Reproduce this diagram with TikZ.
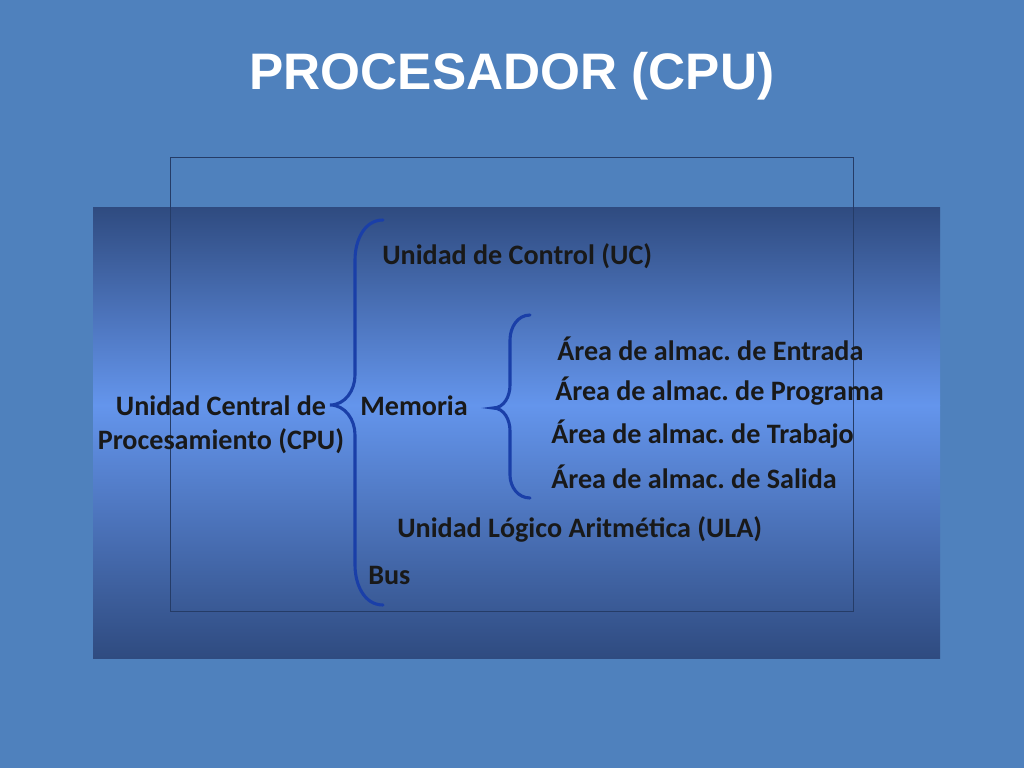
\documentclass[tikz,border=0pt]{standalone}
\usepackage{fontspec}
\setmainfont{Carlito}
\newfontfamily\titlefont{Liberation Sans}
\usepackage{tikz}
\frenchspacing
\definecolor{slidebg}{HTML}{4F81BD}
\definecolor{panelDark}{HTML}{2F4B80}
\definecolor{panelLight}{HTML}{6495EC}
\definecolor{braceblue}{HTML}{1A3FA8}
\tikzset{item/.style={font=\fontsize{20}{24}\selectfont\bfseries,text=black!90,anchor=west,inner sep=0pt},
  brace/.style={braceblue,line width=2.2pt,line cap=round}}

\begin{document}
\begin{tikzpicture}[x=0.025cm,y=-0.025cm]

\fill [slidebg] (0,0) rectangle (1024,768);
\useasboundingbox (0,0) rectangle (1024,768);

\node [text=white,font=\titlefont\fontsize{36.5}{42}\selectfont\bfseries] (title) at (512,76) {PROCESADOR (CPU)};

\shade [top color=panelDark,bottom color=panelLight] (93,207) rectangle (940,405);
\shade [top color=panelLight,bottom color=panelDark] (93,405) rectangle (940,658);
\draw [panelDark!80!black,line width=0.4pt] (170,157) rectangle (853,611);

% big brace
\draw [brace] (383,220) to [out=180,in=90] (355,260) -- (355,375) to [out=270,in=0] (330,405) to [out=0,in=90] (355,435) -- (355,565) to [out=270,in=180] (383,605);
% small brace
\draw [brace] (530,315) to [out=180,in=90] (510,340) -- (510,385) to [out=270,in=0] (493,408) to [out=0,in=90] (510,431) -- (510,475) to [out=270,in=180] (530,498);

\node [font=\fontsize{20}{24}\selectfont\bfseries,text=black!90,align=center] (cpu) at (221,425) {Unidad Central de\\Procesamiento (CPU)};
\node [item] (uc) at (382,256) {Unidad de Control (UC)};
\node [item] (mem) at (360,406) {Memoria};
\node [item] (ent) at (557,349) {Área de almac. de Entrada};
\node [item] (prog) at (555,391) {Área de almac. de Programa};
\node [item] (trab) at (551,434) {Área de almac. de Trabajo};
\node [item] (sal) at (551,477) {Área de almac. de Salida};
\node [item] (ula) at (397,529) {Unidad Lógico Aritmética (ULA)};
\node [item] (bus) at (368,575) {Bus};

\end{tikzpicture}
\end{document}
